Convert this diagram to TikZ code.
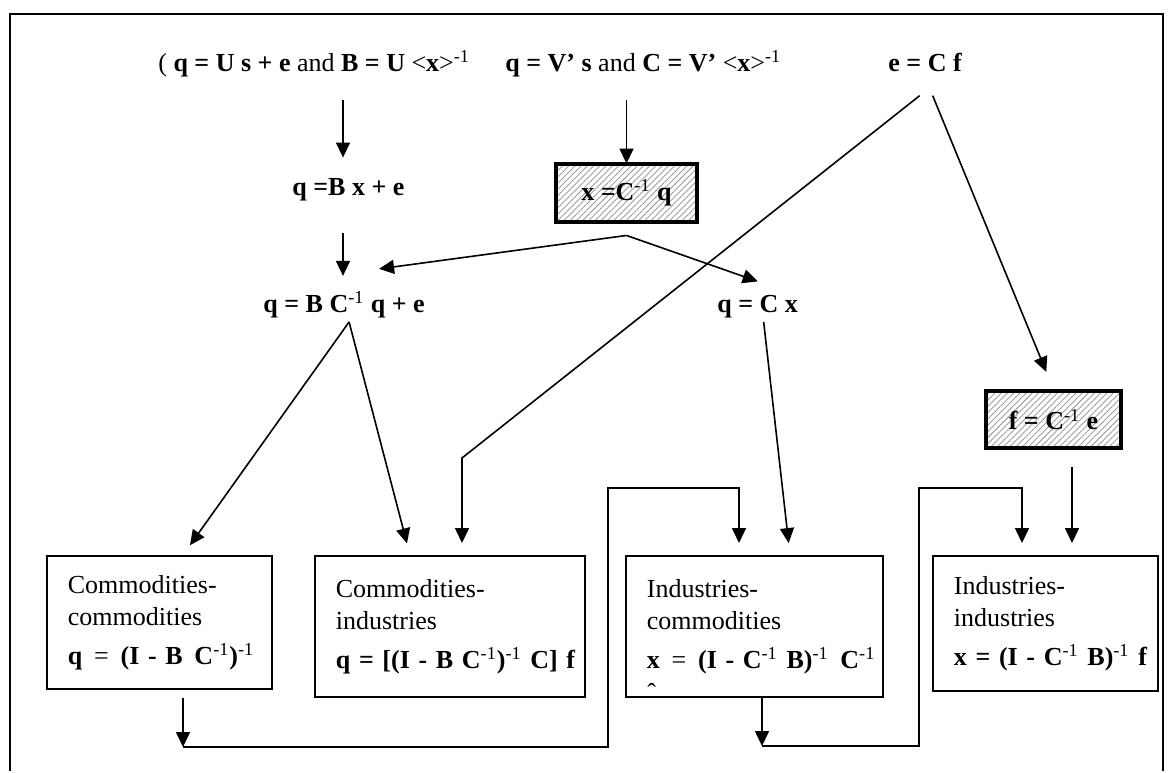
\documentclass[tikz,border=0pt]{standalone}
\usepackage{fontspec}
\setmainfont{Liberation Serif}
\usetikzlibrary{arrows.meta, patterns.meta, positioning}
\newcommand{\minusone}{\textsuperscript{-1}}
\newcommand{\wsp}{\hspace{0.12em}}

\begin{document}
\begin{tikzpicture}[x=0.5pt, y=-0.5pt, font=\fontsize{13}{16}\selectfont]
\tikzstyle{arr}=[-{Triangle[length=7.5pt,width=7pt]}, line width=0.8pt]
\tikzstyle{eq}=[inner sep=0pt, anchor=base west]
\tikzstyle{hatch}=[draw, line width=1.6pt, inner sep=0pt, pattern={Lines[angle=45,distance=2.2pt,line width=0.45pt]}, pattern color=gray!75]
\tikzstyle{sector}=[draw, line width=0.9pt, anchor=north west, align=left, inner xsep=10.5pt, inner ysep=0pt]

\useasboundingbox (0,0) rectangle (1173,772);
\draw[line width=1pt] (10,771) -- (10,14) -- (1163,14) -- (1163,771);

\node[eq] (top1) at (158,71) {( \textbf{q = U s + e} and \textbf{B = U} <\textbf{x}>\minusone};
\node[eq] (top2) at (505,71) {\textbf{q = V’ s} and \textbf{C = V’} <\textbf{x}>\minusone};
\node[eq] (top3) at (888,71) {\textbf{e = C f}};
\node[eq] (qBx) at (292,195) {\textbf{q =B x + e}};
\node[hatch, minimum width=70.5pt, minimum height=29pt] (xbox) at (626.5,193) {\textbf{x =C}\minusone\ \textbf{q}};
\node[eq] (qBCq) at (263,312) {\textbf{q = B C}\minusone\ \textbf{q + e}};
\node[eq] (qCx) at (717,312) {\textbf{q = C x}};
\node[hatch, minimum width=67.5pt, minimum height=28.5pt] (fbox) at (1053.5,419.5) {\textbf{f = C}\minusone\ \textbf{e}};

\node[sector, text width=91.5pt, minimum height=66.5pt] (cc) at (46,555)
  {Commodities-\\commodities\\[3.5pt]\mbox{\textbf{q}\wsp\ =\wsp\ \textbf{(I - B}\wsp\ \textbf{C}\minusone\textbf{)}\minusone}};
\node[sector, text width=114pt, minimum height=70.5pt] (ci) at (314,555)
  {Commodities-\\industries\\[3.5pt]\mbox{\textbf{q = [(I - B C}\minusone\textbf{)}\minusone\ \textbf{C] f}}};
\node[sector, text width=107.5pt, minimum height=70.5pt] (ic) at (625,555)
  {Industries-\\commodities\\[3.5pt]\mbox{\textbf{x}\wsp\ =\wsp\ \textbf{(I - C}\minusone\ \textbf{B)}\minusone\wsp\ \textbf{C}\minusone}};
\node[sector, text width=91.5pt, minimum height=67.5pt] (ii) at (932,555)
  {Industries-\\industries\\[3.5pt]\mbox{\textbf{x = (I - C}\minusone\ \textbf{B)}\minusone\ \textbf{f}}};
\node[eq] (hat) at (647,701) {ˆ};

\coordinate (colq) at (343,0);
\coordinate (bend) at (462,458);
\coordinate (k2) at (410,0);
\coordinate (k3) at (790,0);
\coordinate (d1) at (183,747);
\coordinate (u1) at (608,488);
\coordinate (v1) at (739,488);
\coordinate (d2) at (762,746);
\coordinate (u2) at (919,488);
\coordinate (v2) at (1022,488);

\draw[arr, shorten <=11.5pt, shorten >=10pt] (top1.south -| colq) -- (qBx.north -| colq);
\draw[arr, shorten <=16pt, shorten >=7.5pt] (qBx.south -| colq) -- (qBCq.north -| colq);
\draw[arr, shorten <=11.5pt] (top2.south -| xbox.north) -- (xbox.north);
\draw[arr] ([yshift=-6.5pt]xbox.south) -- ([shift={(17.5pt,11pt)}]qBCq.north);
\draw[arr] ([yshift=-6.5pt]xbox.south) -- ([yshift=6.5pt]qCx.north);
\draw[arr, shorten >=6pt] ([shift={(-2.75pt,-12pt)}]top3.south) -- (bend) -- (ci.north -| bend);
\draw[arr, shorten >=9.5pt] ([shift={(3.75pt,-12pt)}]top3.south) -- (fbox.north);
\draw[arr, shorten >=6pt] ([shift={(2.5pt,-2pt)}]qBCq.south) -- (cc.north -| d1);
\draw[arr, shorten >=6pt] ([shift={(2.5pt,-2pt)}]qBCq.south) -- (ci.north -| k2);
\draw[arr, shorten >=6pt] ([shift={(3pt,-2pt)}]qCx.south) -- (ic.north -| k3);
\draw[arr, shorten <=8.5pt, shorten >=6pt] ([xshift=9.25pt]fbox.south) -- ([xshift=9.25pt]fbox.south |- ii.north);
\draw[arr, shorten <=4pt] (cc.south -| d1) -- (d1);
\draw[arr, shorten >=6pt] (d1) -| (u1) -- (v1) -- (ic.north -| v1);
\draw[arr] (ic.south -| d2) -- (d2);
\draw[arr, shorten >=6pt] (d2) -| (u2) -- (v2) -- (ii.north -| v2);
\end{tikzpicture}
\end{document}
